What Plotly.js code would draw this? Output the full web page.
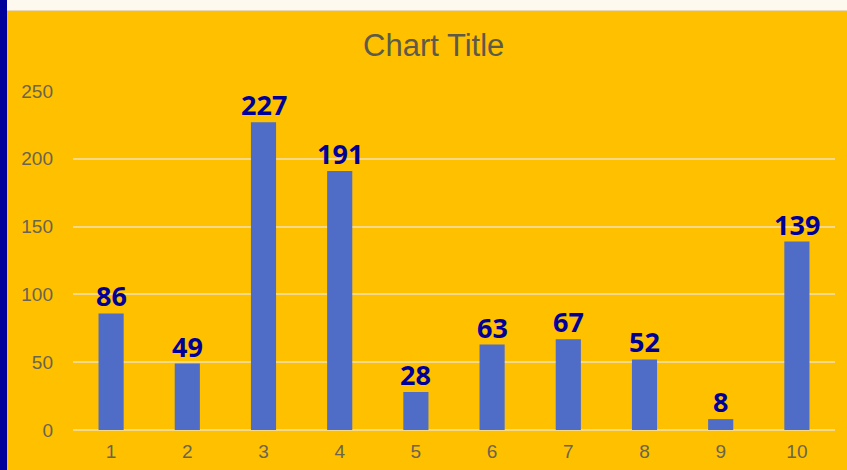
<!DOCTYPE html>
<html>
<head>
<meta charset="utf-8">
<script src="https://cdn.plot.ly/plotly-3.0.1.min.js"></script>
<style>
  html, body { margin: 0; padding: 0; width: 847px; height: 470px; overflow: hidden; background: #FFC000; }
  #leftbar { position: absolute; left: 0; top: 0; width: 7px; height: 470px; background: #00009A; }
  #topbar { position: absolute; left: 7px; top: 0; width: 840px; height: 10px; background: #FDF9EE; border-bottom: 1px solid #EAD9B5; }
  #chart { position: absolute; left: 7px; top: 11px; width: 840px; height: 459px; }
</style>
</head>
<body>
<div id="leftbar"></div>
<div id="topbar"></div>
<div id="chart"></div>
<script>
const categories = ['1','2','3','4','5','6','7','8','9','10'];
const values = [86, 49, 227, 191, 28, 63, 67, 52, 8, 139];
const yTicks = [0, 50, 100, 150, 200, 250];

const trace = {
  type: 'bar',
  x: categories,
  y: values,
  marker: { color: '#4F6CC6' },
  hoverinfo: 'none'
};

const labelFont = { family: 'Noto Sans, Open Sans, sans-serif', size: 27, color: '#000099', weight: 'bold' };
// annotations on a category axis are positioned by category index
const annotations = categories.map((c, i) => ({
  x: i,
  y: values[i],
  xref: 'x',
  yref: 'y',
  text: String(values[i]),
  showarrow: false,
  yanchor: 'bottom',
  xanchor: 'center',
  yshift: -3,
  font: labelFont
}));

const tickFont = { family: 'Liberation Sans, Arial, sans-serif', size: 19, color: '#6A6452' };

const layout = {
  width: 840,
  height: 459,
  paper_bgcolor: '#FFC000',
  plot_bgcolor: '#FFC000',
  margin: { l: 66, r: 12, t: 80, b: 40 },
  bargap: 0.67,
  showlegend: false,
  annotations: annotations,
  title: {
    text: 'Chart Title',
    font: { family: 'Liberation Sans, Arial, sans-serif', size: 31, color: '#5E5A4A' },
    x: 0.508, xanchor: 'center',
    y: 0.925, yanchor: 'middle'
  },
  xaxis: {
    type: 'category',
    range: [-0.5, categories.length - 0.5],
    tickfont: tickFont,
    showgrid: false,
    showline: false,
    ticks: '',
    ticklabelstandoff: 8
  },
  yaxis: {
    range: [0, 250],
    tickvals: yTicks,
    ticktext: yTicks.map(String),
    tickfont: tickFont,
    gridcolor: '#F4D98A',
    gridwidth: 2,
    zeroline: true,
    zerolinecolor: '#F4D98A',
    zerolinewidth: 2,
    ticks: '',
    ticklabelstandoff: 19
  }
};

Plotly.newPlot('chart', [trace], layout, { displayModeBar: false, staticPlot: true });
</script>
</body>
</html>
